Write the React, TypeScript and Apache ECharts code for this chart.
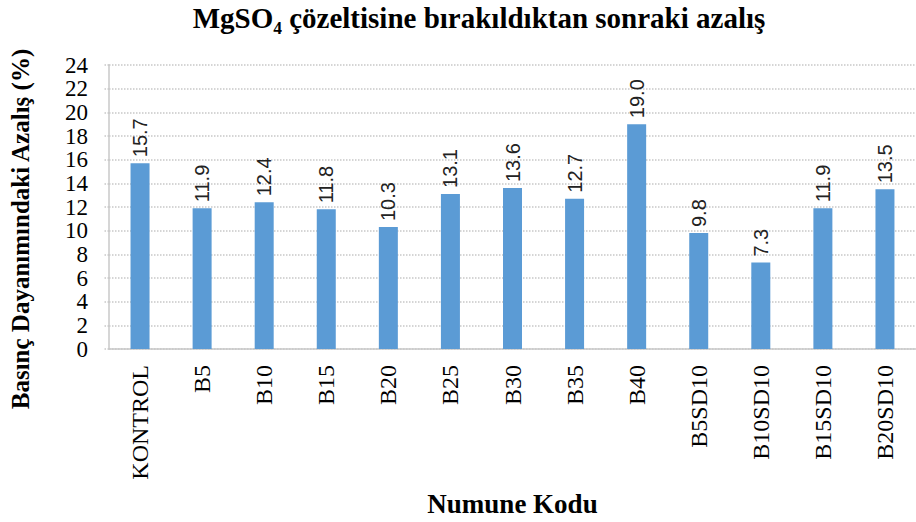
import React, { useEffect, useRef } from "react";
import * as echarts from "echarts";

const categories = ["KONTROL", "B5", "B10", "B15", "B20", "B25", "B30", "B35", "B40", "B5SD10", "B10SD10", "B15SD10", "B20SD10"];
const values = [15.7, 11.9, 12.4, 11.8, 10.3, 13.1, 13.6, 12.7, 19.0, 9.8, 7.3, 11.9, 13.5];
const yTicks = { min: 0, max: 24, interval: 2 };
const titleText = "MgSO₄ çözeltisine bırakıldıktan sonraki azalış";
const yName = "Basınç Dayanımındaki Azalış (%)";
const xName = "Numune Kodu";

const SERIF = "'Liberation Serif', 'Times New Roman', serif";

export default function App() {
  const ref = useRef<HTMLDivElement>(null);
  useEffect(() => {
    if (!ref.current) return;
    const chart = echarts.init(ref.current, null, { renderer: "svg" });
    chart.setOption({
      animation: false,
      backgroundColor: "#ffffff",
      grid: { left: 109, top: 65, width: 816, height: 288, containLabel: false },
      graphic: [
        {
          type: "text",
          x: 479,
          y: 3,
          style: {
            text: titleText,
            font: `bold 29px ${SERIF}`,
            fill: "#000",
            align: "center",
            verticalAlign: "top",
          },
        },
        {
          type: "text",
          x: 8,
          y: 229,
          rotation: Math.PI / 2,
          style: {
            text: yName,
            font: `bold 25px ${SERIF}`,
            fill: "#000",
            align: "center",
            verticalAlign: "top",
          },
        },
      ],
      xAxis: {
        type: "category",
        data: categories,
        name: xName,
        nameLocation: "middle",
        nameGap: 141,
        nameTextStyle: { fontFamily: SERIF, fontWeight: "bold", fontSize: 27, color: "#000" },
        axisLine: { lineStyle: { color: "#c8c8c8", width: 1.5 } },
        axisTick: { show: false },
        axisLabel: {
          rotate: 90,
          fontFamily: SERIF,
          fontSize: 24,
          color: "#000",
          margin: 16,
          interval: 0,
        },
      },
      yAxis: {
        type: "value",
        min: yTicks.min,
        max: yTicks.max,
        interval: yTicks.interval,
        axisLine: { show: true, lineStyle: { color: "#c8c8c8", width: 1.5 } },
        axisTick: { show: true, length: 6, lineStyle: { color: "#c8c8c8", type: "dotted", width: 1.5 } },
        splitLine: { show: true, lineStyle: { color: "#c8c8c8", type: "dotted", width: 1.5 } },
        axisLabel: {
          fontFamily: SERIF,
          fontSize: 23,
          color: "#000",
          margin: 21,
          showMinLabel: true,
          showMaxLabel: true,
          hideOverlap: false,
        },
      },
      series: [
        {
          type: "bar",
          data: values,
          barWidth: 19,
          itemStyle: { color: "#5B9BD5" },
          label: {
            show: true,
            position: "top",
            rotate: 90,
            align: "left",
            verticalAlign: "middle",
            distance: 6,
            fontFamily: "'Liberation Sans', Arial, sans-serif",
            fontSize: 20,
            color: "#222",
            formatter: (p: any) => Number(p.value).toFixed(1),
          },
        },
      ],
    });
    return () => chart.dispose();
  }, []);
  return (
    <div
      ref={ref}
      style={{ position: "absolute", left: 0, top: 0, width: 916, height: 522, overflow: "hidden" }}
    />
  );
}
